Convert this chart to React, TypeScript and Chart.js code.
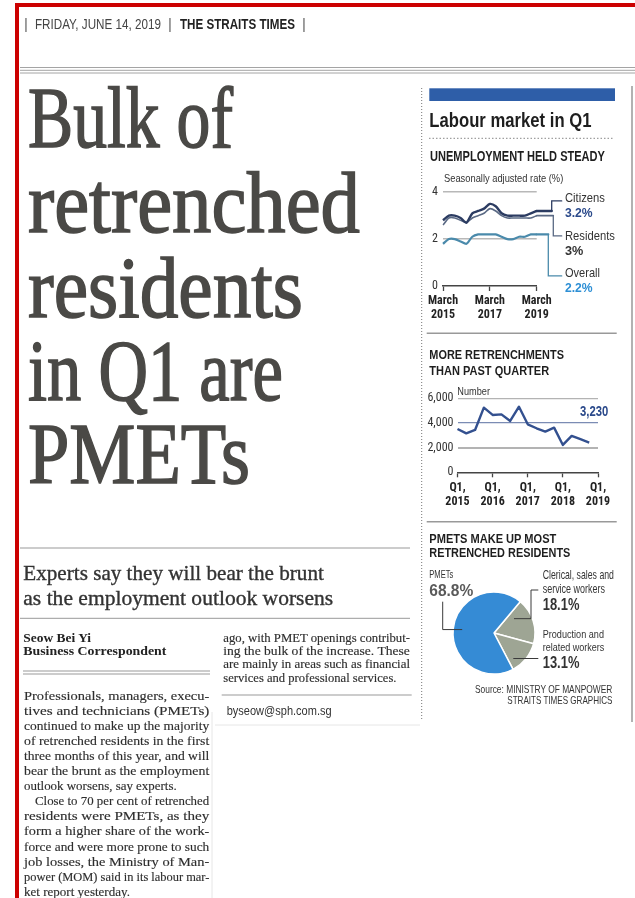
import React, { useEffect, useRef } from 'react';
import { Chart, registerables } from 'chart.js';

Chart.register(...registerables);

const SANS = "'Liberation Sans', Arial, sans-serif";
const NARROW = "'Roboto Condensed', 'Liberation Sans Narrow', 'DejaVu Sans Condensed', Roboto, 'Liberation Sans', sans-serif";
const SERIF = "'Liberation Serif', 'Times New Roman', Times, serif";

// ---------------- data: unemployment (seasonally adjusted rate, %) ----------------
const unempQuarters = [
  'Mar 2015', 'Jun 2015', 'Sep 2015', 'Dec 2015',
  'Mar 2016', 'Jun 2016', 'Sep 2016', 'Dec 2016',
  'Mar 2017', 'Jun 2017', 'Sep 2017', 'Dec 2017',
  'Mar 2018', 'Jun 2018', 'Sep 2018', 'Dec 2018',
  'Mar 2019',
];
const citizensRate = [2.8, 3.0, 3.0, 2.9, 2.7, 3.1, 3.2, 3.3, 3.5, 3.4, 3.1, 3.0, 3.0, 3.0, 3.0, 3.1, 3.2];
const residentsRate = [2.6, 2.9, 2.9, 2.8, 2.7, 2.9, 3.0, 3.1, 3.3, 3.2, 3.0, 2.9, 2.9, 2.9, 2.9, 2.9, 3.0];
const overallRate = [1.8, 2.0, 2.0, 1.9, 1.8, 2.1, 2.2, 2.2, 2.2, 2.2, 2.1, 2.0, 2.0, 2.1, 2.1, 2.2, 2.2];
const unempSeries = ['Citizens', 'Residents', 'Overall'];
const unempLatest = ['3.2%', '3%', '2.2%'];
const unempYTicks = [0, 2, 4];
const unempTickIndex = [0, 8, 16];
const unempTickLabels = [['March', '2015'], ['March', '2017'], ['March', '2019']];

// ---------------- data: retrenchments (number) ----------------
const retrQuarters = [
  'Q1 2015', 'Q2 2015', 'Q3 2015', 'Q4 2015',
  'Q1 2016', 'Q2 2016', 'Q3 2016', 'Q4 2016',
  'Q1 2017', 'Q2 2017', 'Q3 2017', 'Q4 2017',
  'Q1 2018', 'Q2 2018', 'Q3 2018', 'Q4 2018',
  'Q1 2019',
];
const retrenchedCount = [3510, 3160, 3430, 5240, 4650, 4700, 4160, 5320, 3890, 3570, 3300, 3620, 2220, 2950, 2680, 2400];
const retrYTicks = [0, 2000, 4000, 6000];
const retrTickIndex = [0, 4, 8, 12, 16];
const retrTickLabels = [['Q1,', '2015'], ['Q1,', '2016'], ['Q1,', '2017'], ['Q1,', '2018'], ['Q1,', '2019']];
const retrLatest = '3,230';

// ---------------- data: retrenched residents by occupation (%) ----------------
const occLabels = ['Clerical, sales and service workers', 'Production and related workers', 'PMETs'];
const occShares = [18.1, 13.1, 68.8];

// ---------------- styles ----------------
const C_CIT = '#2c3c62';
const C_RES = '#5a6984';
const C_OVR = '#4a8aab';
const C_RETR = '#33508f';

const unempConnector = {
  id: 'unempConnector',
  afterDatasetsDraw(chart: any) {
    const { ctx, chartArea: a } = chart;
    const turns = [15, 16.6, 11.6];
    const targetY = [8.7, 43.7, 83.7];
    chart.data.datasets.forEach((ds: any, i: number) => {
      const meta = chart.getDatasetMeta(i);
      const last: any = meta.data[meta.data.length - 1];
      const tx = a.right + turns[i];
      ctx.save();
      ctx.strokeStyle = ds.borderColor;
      ctx.lineCap = 'round';
      ctx.lineWidth = ds.borderWidth;
      ctx.beginPath();
      ctx.moveTo(last.x, last.y);
      ctx.lineTo(tx, last.y);
      ctx.stroke();
      ctx.lineWidth = 1.3;
      ctx.beginPath();
      ctx.moveTo(tx, last.y);
      ctx.lineTo(tx, a.top + targetY[i]);
      ctx.lineTo(a.right + 25, a.top + targetY[i]);
      ctx.stroke();
      ctx.restore();
    });
  },
};

const pieLeaders = {
  id: 'pieLeaders',
  afterDatasetsDraw(chart: any) {
    const ctx = chart.ctx;
    const arcs: any[] = chart.getDatasetMeta(0).data;
    const pt = (i: number, f: number, rf: number) => {
      const a = arcs[i];
      const ang = a.startAngle + f * (a.endAngle - a.startAngle);
      return { x: a.x + Math.cos(ang) * a.outerRadius * rf, y: a.y + Math.sin(ang) * a.outerRadius * rf, cx: a.x, cy: a.y };
    };
    ctx.save();
    ctx.strokeStyle = '#3a3a3a';
    ctx.lineWidth = 1;
    let p = pt(0, 0.22, 0.6);
    ctx.beginPath();
    ctx.moveTo(p.x, p.y);
    ctx.lineTo(p.cx + 37, p.y);
    ctx.lineTo(p.cx + 37, p.cy - 43);
    ctx.lineTo(p.cx + 44.3, p.cy - 43);
    ctx.stroke();
    p = pt(1, 0.8, 0.78);
    ctx.beginPath();
    ctx.moveTo(p.x, p.y);
    ctx.lineTo(p.cx + 44.3, p.y);
    ctx.stroke();
    p = pt(2, 0.5, 0.78);
    ctx.beginPath();
    ctx.moveTo(p.x, p.y);
    ctx.lineTo(p.cx - 51.3, p.y);
    ctx.lineTo(p.cx - 51.3, p.cy - 31.3);
    ctx.stroke();
    ctx.restore();
  },
};

function unempConfig(): any {
  const colors = [C_CIT, C_RES, C_OVR];
  const widths = [2.4, 1.6, 2.2];
  const series = [citizensRate, residentsRate, overallRate];
  return {
    type: 'line',
    data: {
      labels: unempQuarters,
      datasets: series.map((d, i) => ({
        label: unempSeries[i],
        data: d,
        borderColor: colors[i],
        borderWidth: widths[i],
        pointRadius: 0,
        tension: 0.25,
        fill: false,
      })),
    },
    options: {
      animation: false,
      responsive: false,
      maintainAspectRatio: false,
      layout: { padding: { left: 0, top: 8, right: 78.3, bottom: 0 } },
      plugins: { legend: { display: false }, tooltip: { enabled: false } },
      scales: {
        x: {
          type: 'category',
          offset: false,
          grid: {
            display: true,
            drawOnChartArea: false,
            drawTicks: true,
            tickLength: 5,
            tickColor: (c: any) => (unempTickIndex.includes(c.index) ? '#444' : 'rgba(0,0,0,0)'),
            tickWidth: 1.3,
          },
          border: { display: true, color: '#444', width: 1.5 },
          ticks: {
            autoSkip: false,
            maxRotation: 0,
            minRotation: 0,
            padding: 3,
            color: '#222',
            font: { family: NARROW, size: 12, weight: 'bold', lineHeight: 1.15 },
            callback: (_v: any, i: number) => {
              const k = unempTickIndex.indexOf(i);
              return k >= 0 ? unempTickLabels[k] : '';
            },
          },
          afterFit: (s: any) => { s.height = 40; },
        },
        y: {
          min: 0,
          max: 4,
          afterBuildTicks: (s: any) => { s.ticks = unempYTicks.map((v) => ({ value: v })); },
          ticks: { padding: 5, color: '#333', font: { family: NARROW, size: 12 } },
          grid: {
            drawTicks: false,
            color: (c: any) => (c.tick && c.tick.value === 0 ? 'rgba(0,0,0,0)' : '#b8b8b8'),
            lineWidth: 1.5,
          },
          border: { display: false },
          afterFit: (s: any) => { s.width = 16.7; },
        },
      },
    },
    plugins: [unempConnector],
  };
}

function retrConfig(): any {
  return {
    type: 'line',
    data: {
      labels: retrQuarters,
      datasets: [
        {
          label: 'Retrenchments',
          data: retrenchedCount,
          borderColor: C_RETR,
          borderWidth: 2.4,
          pointRadius: 0,
          tension: 0,
          fill: false,
          borderJoinStyle: 'round',
        },
      ],
    },
    options: {
      animation: false,
      responsive: false,
      maintainAspectRatio: false,
      layout: { padding: { left: 0, top: 13.3, right: 17, bottom: 0 } },
      plugins: { legend: { display: false }, tooltip: { enabled: false } },
      scales: {
        x: {
          type: 'category',
          offset: false,
          grid: {
            display: true,
            drawOnChartArea: false,
            drawTicks: true,
            tickLength: 5,
            tickColor: (c: any) => (retrTickIndex.includes(c.index) ? '#444' : 'rgba(0,0,0,0)'),
            tickWidth: 1.3,
          },
          border: { display: true, color: '#444', width: 1.5 },
          ticks: {
            autoSkip: false,
            maxRotation: 0,
            minRotation: 0,
            padding: 3,
            color: '#222',
            font: { family: NARROW, size: 12, weight: 'bold', lineHeight: 1.2 },
            callback: (_v: any, i: number) => {
              const k = retrTickIndex.indexOf(i);
              return k >= 0 ? retrTickLabels[k] : '';
            },
          },
          afterFit: (s: any) => { s.height = 37.7; },
        },
        y: {
          min: 0,
          max: 6000,
          afterBuildTicks: (s: any) => { s.ticks = retrYTicks.map((v) => ({ value: v })); },
          ticks: { padding: 4, color: '#333', font: { family: NARROW, size: 12 } },
          grid: {
            drawTicks: false,
            color: (c: any) => {
              const v = c.tick && c.tick.value;
              if (v === 0) return 'rgba(0,0,0,0)';
              if (v === 4000) return '#7b8cb4';
              return '#b3b3b3';
            },
            lineWidth: (c: any) => (c.tick && c.tick.value === 2000 ? 2 : 1.2),
          },
          border: { display: false },
          afterFit: (s: any) => { s.width = 37.5; },
        },
      },
    },
  };
}

function pieConfig(): any {
  return {
    type: 'pie',
    data: {
      labels: occLabels,
      datasets: [
        {
          data: occShares,
          backgroundColor: ['#9ea594', '#9ea594', '#358bd5'],
          borderColor: '#ffffff',
          borderWidth: 1.5,
          rotation: 40,
          radius: 41,
        },
      ],
    },
    options: {
      animation: false,
      responsive: false,
      maintainAspectRatio: false,
      layout: { padding: { left: 28, top: 22, right: 15, bottom: 16 } },
      plugins: { legend: { display: false }, tooltip: { enabled: false } },
    },
    plugins: [pieLeaders],
  };
}

function ChartBox(props: { left: number; top: number; width: number; height: number; make: () => any }) {
  const ref = useRef<HTMLCanvasElement>(null);
  useEffect(() => {
    const c = ref.current;
    if (!c) return;
    const chart = new Chart(c, props.make());
    return () => chart.destroy();
  }, []);
  const { left, top, width, height } = props;
  return (
    <div style={{ position: 'absolute', left, top, width, height, zIndex: 1 }}>
      <canvas ref={ref} width={width} height={height} style={{ width, height, display: 'block' }} />
    </div>
  );
}

let mctx: CanvasRenderingContext2D | null = null;
function measure(t: string, s: number, f: string, b: number): number {
  if (!mctx) mctx = document.createElement('canvas').getContext('2d');
  if (!mctx) return 0;
  mctx.font = `${b} ${s}px ${f}`;
  return mctx.measureText(t).width;
}

type TP = {
  x: number; y: number; s: number; t: string; w?: number; f?: string; b?: number; c?: string;
  sw?: number;
};
function T({ x, y, s, t, w, f = SANS, b = 400, c = '#222', sw }: TP) {
  const nat = w ? measure(t, s, f, b) : 0;
  const sx = w && nat > 0 ? w / nat : 1;
  return (
    <text
      transform={`translate(${x} ${y}) scale(${sx.toFixed(4)} 1)`}
      x={0}
      y={0}
      fontSize={s}
      fontFamily={f}
      fontWeight={b}
      fill={c}
      stroke={sw ? c : undefined}
      strokeWidth={sw}
    >
      {t}
    </text>
  );
}

const leftCol = [
  'Professionals, managers, execu-',
  'tives and technicians (PMETs)',
  'continued to make up the majority',
  'of retrenched residents in the first',
  'three months of this year, and will',
  'bear the brunt as the employment',
  'outlook worsens, say experts.',
  'Close to 70 per cent of retrenched',
  'residents were PMETs, as they',
  'form a higher share of the work-',
  'force and were more prone to such',
  'job losses, the Ministry of Man-',
  'power (MOM) said in its labour mar-',
  'ket report yesterday.',
];
const rightCol = [
  'ago, with PMET openings contribut-',
  'ing the bulk of the increase. These',
  'are mainly in areas such as financial',
  'services and professional services.',
];

export default function App() {
  const headline = [
    { t: 'Bulk of', y: 147, w: 205 },
    { t: 'retrenched', y: 232, w: 332 },
    { t: 'residents', y: 317, w: 275 },
    { t: 'in Q1 are', y: 400, w: 255 },
    { t: 'PMETs', y: 483, w: 222 },
  ];
  return (
    <div
      style={{
        position: 'absolute',
        left: 0,
        top: 0,
        width: 635,
        height: 898,
        overflow: 'hidden',
        background: '#ffffff',
      }}
    >
      <ChartBox left={425} top={180} width={190} height={146} make={unempConfig} />
      <ChartBox left={420} top={385} width={195} height={125} make={retrConfig} />
      <ChartBox left={425} top={570} width={125} height={120} make={pieConfig} />

      <svg
        width={635}
        height={898}
        style={{ position: 'absolute', left: 0, top: 0, zIndex: 2, pointerEvents: 'none' }}
      >
        {/* red frame */}
        <rect x={15} y={3} width={620} height={4} fill="#cc0000" />
        <rect x={15} y={3} width={4} height={895} fill="#cc0000" />

        {/* header */}
        <T x={24} y={29} s={15} t="|" c="#666" />
        <T x={35} y={29} s={15} t="FRIDAY, JUNE 14, 2019" w={126} c="#444" />
        <T x={168} y={29} s={15} t="|" c="#666" />
        <T x={180} y={29} s={15} t="THE STRAITS TIMES" w={115} b={700} c="#222" />
        <T x={302} y={29} s={15} t="|" c="#666" />

        {/* triple rule */}
        <line x1={20} y1={67.5} x2={635} y2={67.5} stroke="#9a9a9a" strokeWidth={0.9} />
        <line x1={20} y1={70.3} x2={635} y2={70.3} stroke="#9a9a9a" strokeWidth={0.9} />
        <line x1={20} y1={73} x2={635} y2={73} stroke="#9a9a9a" strokeWidth={0.9} />

        {/* headline */}
        {headline.map((h) => (
          <T key={h.t} x={28} y={h.y} s={86} t={h.t} w={h.w} f={SERIF} c="#4a4946" sw={1.5} />
        ))}

        {/* subheadline */}
        <line x1={20} y1={548} x2={410} y2={548} stroke="#999" strokeWidth={1} />
        <T x={23.3} y={580} s={21} t="Experts say they will bear the brunt" w={300.7} f={SERIF} c="#333" sw={0.35} />
        <T x={23.3} y={605} s={21} t="as the employment outlook worsens" w={310} f={SERIF} c="#333" sw={0.35} />
        <line x1={20} y1={618.3} x2={410} y2={618.3} stroke="#999" strokeWidth={1} />

        {/* byline */}
        <T x={23.3} y={641.7} s={12} t="Seow Bei Yi" w={68.3} f={SERIF} b={700} c="#222" />
        <T x={23.3} y={655} s={12} t="Business Correspondent" w={143.3} f={SERIF} b={700} c="#222" />
        <line x1={23} y1={671} x2={210} y2={671} stroke="#999" strokeWidth={1} />
        <line x1={23} y1={674} x2={210} y2={674} stroke="#999" strokeWidth={1} />

        {/* left column */}
        {leftCol.map((line, i) => {
          const y = 700 + 15.05 * i;
          let x = 24;
          let w = 185.3;
          if (i === 6) w = 152.7;
          if (i === 7) { x = 35; w = 174.3; }
          if (i === 13) w = 106;
          return <T key={i} x={x} y={y} s={13.2} t={line} w={w} f={SERIF} c="#2e2e2e" sw={0.15} />;
        })}

        {/* right column */}
        {rightCol.map((line, i) => (
          <T
            key={i}
            x={223.3}
            y={641.7 + 13.35 * i}
            s={12}
            t={line}
            w={i === 3 ? 173.4 : 187}
            f={SERIF}
            c="#2e2e2e"
            sw={0.15}
          />
        ))}
        <line x1={221.7} y1={695} x2={411.7} y2={695} stroke="#999" strokeWidth={1} />
        <T x={226.7} y={715} s={12} t="byseow@sph.com.sg" w={105} c="#333" />
        <line x1={215} y1={725} x2={420} y2={725} stroke="#e6e6e6" strokeWidth={1} />
        <line x1={212} y1={712} x2={212} y2={898} stroke="#e6e6e6" strokeWidth={1} />

        {/* sidebar frame */}
        <line x1={421.7} y1={88} x2={421.7} y2={720} stroke="#777" strokeWidth={1} strokeDasharray="1 2" />
        <line x1={632} y1={86} x2={632} y2={722} stroke="#999" strokeWidth={1.5} />
        <rect x={429.3} y={88.3} width={185.7} height={12.7} fill="#2e5ea8" />
        <T x={429.3} y={126.7} s={21} t="Labour market in Q1" w={162.3} b={700} c="#1e1e1e" />
        <line x1={429} y1={138.3} x2={614} y2={138.3} stroke="#888" strokeWidth={1} strokeDasharray="1.5 2" />

        {/* unemployment */}
        <T x={430} y={160.7} s={14} t="UNEMPLOYMENT HELD STEADY" w={175} b={700} c="#1e1e1e" />
        <T x={444} y={181.7} s={11.5} t="Seasonally adjusted rate (%)" w={119.3} c="#333" />
        <T x={565} y={201.7} s={12.5} t={unempSeries[0]} w={40} c="#333" />
        <T x={565} y={216.7} s={13.5} t={unempLatest[0]} w={27.7} b={700} c="#2b4a8b" />
        <T x={565} y={240} s={12.5} t={unempSeries[1]} w={50} c="#333" />
        <T x={565} y={255} s={13.5} t={unempLatest[1]} w={18.3} b={700} c="#333" />
        <T x={565} y={276.7} s={12.5} t={unempSeries[2]} w={35} c="#333" />
        <T x={565} y={291.7} s={13.5} t={unempLatest[2]} w={27.7} b={700} c="#2d8fd5" />

        {/* retrenchments */}
        <line x1={426.7} y1={333.3} x2={616.7} y2={333.3} stroke="#999" strokeWidth={1.5} />
        <T x={429.3} y={359.3} s={13} t="MORE RETRENCHMENTS" w={134.7} b={700} c="#1e1e1e" />
        <T x={429.3} y={375} s={13} t="THAN PAST QUARTER" w={120} b={700} c="#1e1e1e" />
        <T x={457.3} y={395} s={11} t="Number" w={32.7} c="#333" />
        <T x={580} y={416} s={14} t={retrLatest} w={28.3} b={700} c="#2b4a8b" />

        {/* PMETs pie */}
        <line x1={426.7} y1={521.7} x2={616.7} y2={521.7} stroke="#999" strokeWidth={1.5} />
        <T x={429.3} y={542.7} s={12.3} t="PMETS MAKE UP MOST" w={127.3} b={700} c="#1e1e1e" />
        <T x={429.3} y={556.5} s={12.3} t="RETRENCHED RESIDENTS" w={141.3} b={700} c="#1e1e1e" />
        <T x={429.3} y={578.3} s={11.5} t="PMETs" w={24} c="#333" />
        <T x={429.3} y={596} s={16} t={`${occShares[2]}%`} w={44} b={700} c="#5a5a5a" />
        <T x={542.7} y={579.3} s={12} t="Clerical, sales and" w={71.3} c="#333" />
        <T x={542.7} y={592.7} s={12} t="service workers" w={62.3} c="#333" />
        <T x={542.7} y={610} s={16} t={`${occShares[0]}%`} w={36.7} b={700} c="#333" />
        <T x={542.7} y={638.3} s={11} t="Production and" w={61.3} c="#333" />
        <T x={542.7} y={650.7} s={11} t="related workers" w={61.7} c="#333" />
        <T x={542.7} y={668.3} s={16} t={`${occShares[1]}%`} w={36.7} b={700} c="#333" />
        <T x={475} y={692.7} s={10.3} t="Source: MINISTRY OF MANPOWER" w={137.7} c="#333" />
        <T x={507.3} y={704.3} s={10.3} t="STRAITS TIMES GRAPHICS" w={105.3} c="#333" />
      </svg>
    </div>
  );
}
